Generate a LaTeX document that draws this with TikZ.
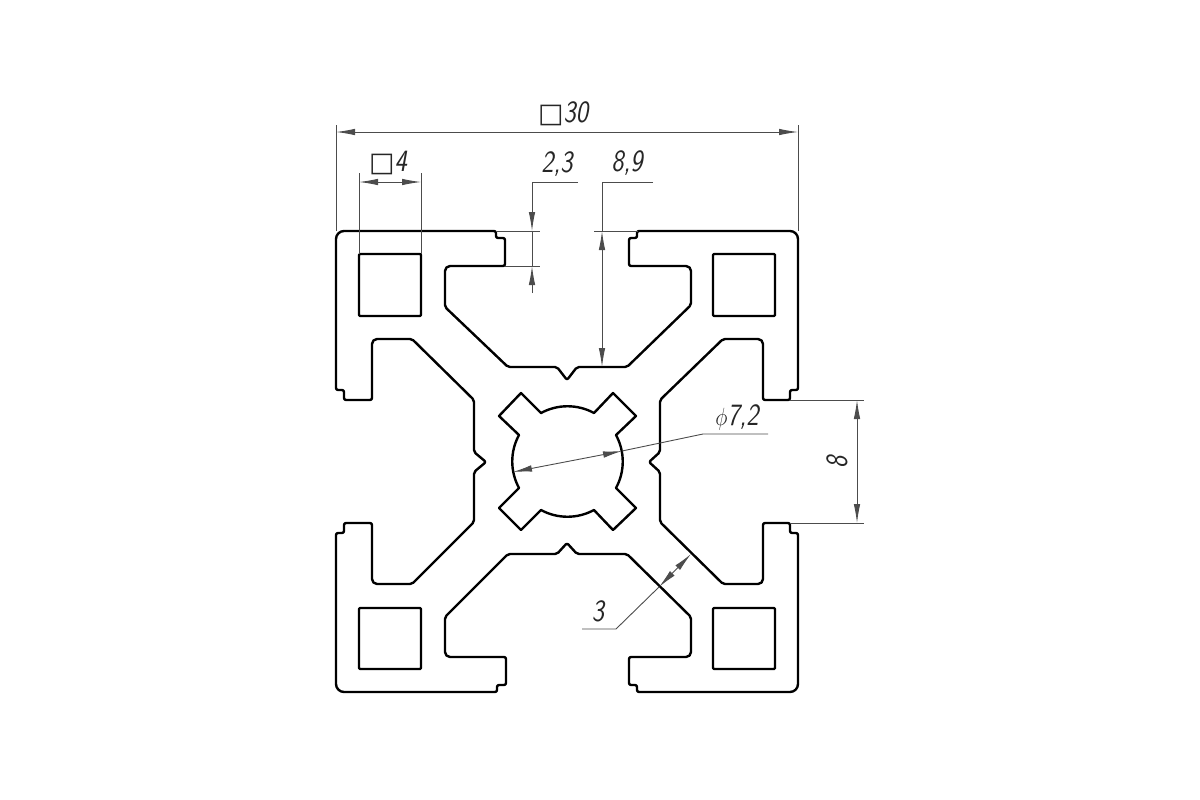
\documentclass[tikz,border=0pt]{standalone}
\usepackage{fontspec}
\usepackage{graphicx}
\newfontfamily\boxfont{DejaVu Sans}
\usetikzlibrary{arrows.meta}
\newcommand{\dimtxt}[1]{\scalebox{0.84}[1]{#1}}

\begin{document}
\begin{tikzpicture}[x=1pt,y=-1pt,>={Latex[length=19pt,width=6.5pt]},
  profile/.style={draw=black,line width=2.4pt,line join=round,rounded corners=2pt},
  dim line/.style={draw=black!70,line width=0.9pt},
  dim text/.style={font=\fontsize{31}{31}\sffamily\itshape,text=black!85,inner sep=0pt}]
  \useasboundingbox (0,0) rectangle (1200,800);

  \draw[profile] (496,231) -- (496,238) -- (505,238) -- (505,266)
    [rounded corners=5pt] -- (445,266) [rounded corners=2pt] -- (445,307)
    -- (508,367) -- (557,367) -- (567,380) -- (577,367) -- (627,367) -- (691,305)
    [rounded corners=5pt] -- (691,266) [rounded corners=2pt]
    -- (629,266) -- (629,238) -- (637,238) -- (637,231)
    [rounded corners=8pt] -- (798,231) [rounded corners=2pt] -- (798,390) -- (790,390) -- (790,400)
    -- (763,400) [rounded corners=5pt] -- (763,339) [rounded corners=2pt] -- (723,339) -- (660,400) -- (660,452) -- (649,462) -- (660,472)
    -- (660,522) -- (723,584) [rounded corners=5pt] -- (763,584) [rounded corners=2pt] -- (763,523) -- (790,523) -- (790,533) -- (798,533)
    [rounded corners=8pt] -- (798,692) [rounded corners=2pt] -- (637,692) -- (637,685) -- (629,685)
    -- (629,657) [rounded corners=5pt] -- (691,657) [rounded corners=2pt] -- (691,617) -- (627,554) -- (577,554) -- (567,543) -- (557,554)
    -- (508,554) -- (445,617) [rounded corners=5pt] -- (445,657) [rounded corners=2pt] -- (506,657) -- (506,685) -- (497,685) -- (497,692)
    [rounded corners=8pt] -- (336,692) [rounded corners=2pt] -- (336,533) -- (344,533) -- (344,523)
    -- (372,523) [rounded corners=5pt] -- (372,584) [rounded corners=2pt] -- (412,584) -- (474,522) -- (474,472) -- (486,462) -- (474,452)
    -- (474,400) -- (412,339) [rounded corners=5pt] -- (372,339) [rounded corners=2pt] -- (372,400) -- (344,400) -- (344,390) -- (336,390)
    [rounded corners=8pt] -- (336,231) [rounded corners=2pt] -- cycle;

  \draw[profile,rounded corners=1pt] (359,254) rectangle (421,316);
  \draw[profile,rounded corners=1pt] (713,254) rectangle (775,316);
  \draw[profile,rounded corners=1pt] (359,608) rectangle (421,669);
  \draw[profile,rounded corners=1pt] (713,608) rectangle (775,669);

  \draw[profile,sharp corners] (541,413) -- (521,393) -- (499,416) -- (519,435)
    arc[start angle=208.6,end angle=151.4,radius=55.3] -- (499,508) -- (521,530) -- (541,510)
    arc[start angle=118.6,end angle=61.4,radius=55.3] -- (613,530) -- (636,508) -- (616,488)
    arc[start angle=28.6,end angle=-28.6,radius=55.3] -- (636,416) -- (613,393) -- (594,413)
    arc[start angle=-61.4,end angle=-118.6,radius=55.3] -- cycle;

  \coordinate (w1) at (336,132);
  \coordinate (w2) at (798,132);
  \draw[dim line] (336,231) -- (336,125);
  \draw[dim line] (798,231) -- (798,125);
  \draw[dim line,<->] (w1) -- (w2);
  \node[dim text] (l30) at (563,114) {{\fontsize{27}{27}\boxfont □}\dimtxt{30}};

  \coordinate (s1) at (359,182);
  \coordinate (s2) at (421,182);
  \draw[dim line] (359,254) -- (359,173);
  \draw[dim line] (421,254) -- (421,173);
  \draw[dim line,<->] (s1) -- (s2);
  \node[dim text] (l4) at (388,163) {{\fontsize{27}{27}\boxfont □}\dimtxt{4}};

  \coordinate (t1) at (532,231);
  \coordinate (t2) at (532,266);
  \draw[dim line] (496,231) -- (540,231);
  \draw[dim line] (505,266) -- (540,266);
  \draw[dim line,->] (578,182) -- (532,182) -- (t1);
  \draw[dim line] (t1) -- (t2);
  \draw[dim line,->] (532,293) -- (t2);
  \node[dim text] (l23) at (557,164) {\dimtxt{2,3}};

  \coordinate (d1) at (602,231);
  \coordinate (d2) at (602,367);
  \draw[dim line] (594,231) -- (638,231);
  \draw[dim line] (653,182) -- (602,182) -- (d1);
  \draw[dim line,<->] (d1) -- (d2);
  \node[dim text] (l89) at (627,163) {\dimtxt{8,9}};

  \coordinate (c1) at (513,472);
  \coordinate (c2) at (622,451);
  \draw[dim line,<->] (c1) -- (c2);
  \draw[dim line] (c2) -- (703,434) -- (768,434);
  \node[dim text] (l72) at (737,417) {\dimtxt{$\phi$7,2}};

  \coordinate (g1) at (857,400);
  \coordinate (g2) at (857,523);
  \draw[dim line] (790,400) -- (864,400);
  \draw[dim line] (790,523) -- (864,523);
  \draw[dim line,<->] (g1) -- (g2);
  \node[dim text,rotate=90] (l8) at (837,462) {\dimtxt{8}};

  \coordinate (b1) at (659,587);
  \coordinate (b2) at (691,554);
  \draw[dim line,<->] (b1) -- (b2);
  \draw[dim line] (582,629) -- (616,629) -- (b1);
  \node[dim text] (l3) at (598,611) {\dimtxt{3}};
\end{tikzpicture}
\end{document}
